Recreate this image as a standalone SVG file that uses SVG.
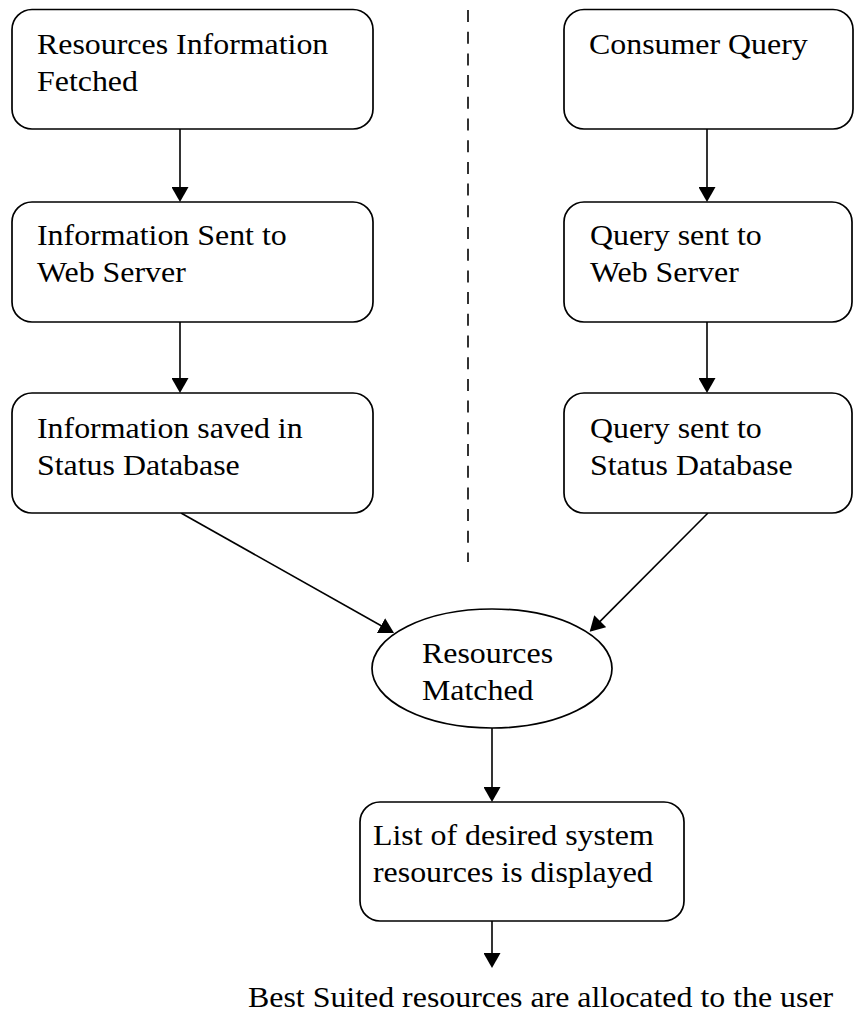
<svg xmlns="http://www.w3.org/2000/svg" width="858" height="1018" viewBox="0 0 858 1018">
  <style>
    .box { fill: #ffffff; stroke: #000000; stroke-width: 1.7; }
    .lbl { font-family: "Liberation Serif", "Times New Roman", serif; font-size: 29px; fill: #000000; }
    .conn { stroke: #000000; stroke-width: 1.6; fill: none; marker-end: url(#arrow); }
    .divider { stroke: #000000; stroke-width: 1.6; stroke-dasharray: 12 9.7; fill: none; }
  </style>
  <defs>
    <marker id="arrow" markerUnits="userSpaceOnUse" markerWidth="15" markerHeight="17" viewBox="0 0 15 17" refX="13" refY="8.5" orient="auto">
      <path d="M0,0 L15,8.5 L0,17 z" fill="#000000"/>
    </marker>
  </defs>

  <rect width="858" height="1018" fill="#ffffff"/>

  <!-- separator between provider side and consumer side -->
  <line class="divider" x1="468" y1="10" x2="468" y2="562"/>

  <g id="connectors">
    <line class="conn" x1="180" y1="129" x2="180" y2="200"/>
    <line class="conn" x1="180" y1="322" x2="180" y2="391"/>
    <line class="conn" x1="707" y1="129" x2="707" y2="200"/>
    <line class="conn" x1="707" y1="322" x2="707" y2="391"/>
    <line class="conn" x1="181" y1="513" x2="392.3" y2="632"/>
    <line class="conn" x1="708" y1="513" x2="591.1" y2="630.4"/>
    <line class="conn" x1="492" y1="728" x2="492" y2="800"/>
    <line class="conn" x1="492" y1="921" x2="492" y2="966"/>
  </g>

  <g id="resources-fetched">
    <rect class="box" x="12" y="9.5" width="361" height="119.5" rx="20" ry="20"/>
    <text class="lbl" transform="translate(37 54) scale(1.1 1)"><tspan x="0" y="0">Resources Information</tspan><tspan x="0" y="37">Fetched</tspan></text>
  </g>

  <g id="info-sent">
    <rect class="box" x="12" y="202" width="361" height="120" rx="20" ry="20"/>
    <text class="lbl" transform="translate(37 245) scale(1.1 1)"><tspan x="0" y="0">Information Sent to</tspan><tspan x="0" y="37">Web Server</tspan></text>
  </g>

  <g id="info-saved">
    <rect class="box" x="12" y="393" width="361" height="120" rx="20" ry="20"/>
    <text class="lbl" transform="translate(37 438) scale(1.1 1)"><tspan x="0" y="0">Information saved in</tspan><tspan x="0" y="37">Status Database</tspan></text>
  </g>

  <g id="consumer-query">
    <rect class="box" x="564" y="9.5" width="289" height="119.5" rx="20" ry="20"/>
    <text class="lbl" transform="translate(589 54) scale(1.1 1)"><tspan x="0" y="0">Consumer Query</tspan></text>
  </g>

  <g id="query-web">
    <rect class="box" x="564" y="202" width="288" height="120" rx="20" ry="20"/>
    <text class="lbl" transform="translate(590 245) scale(1.1 1)"><tspan x="0" y="0">Query sent to</tspan><tspan x="0" y="37">Web Server</tspan></text>
  </g>

  <g id="query-db">
    <rect class="box" x="564" y="393" width="288" height="120" rx="20" ry="20"/>
    <text class="lbl" transform="translate(590 438) scale(1.1 1)"><tspan x="0" y="0">Query sent to</tspan><tspan x="0" y="37">Status Database</tspan></text>
  </g>

  <g id="resources-matched">
    <ellipse class="box" cx="492" cy="668.5" rx="120" ry="59.5"/>
    <text class="lbl" transform="translate(422 663) scale(1.1 1)"><tspan x="0" y="0">Resources</tspan><tspan x="0" y="37">Matched</tspan></text>
  </g>

  <g id="list-displayed">
    <rect class="box" x="360" y="802" width="324" height="119" rx="20" ry="20"/>
    <text class="lbl" transform="translate(373 845) scale(1.1 1)"><tspan x="0" y="0">List of desired system</tspan><tspan x="0" y="37">resources is displayed</tspan></text>
  </g>

  <g id="allocated">
    <text class="lbl" transform="translate(248 1007) scale(1.1 1)">Best Suited resources are allocated to the user</text>
  </g>
</svg>
